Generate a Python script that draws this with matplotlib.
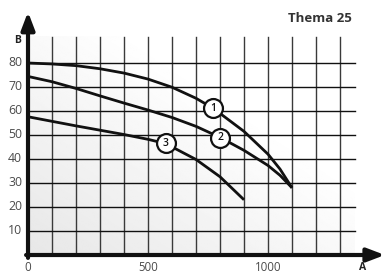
import matplotlib.pyplot as plt
import numpy as np

# curve data (A on x, B on y)
x1 = [0, 100, 200, 300, 400, 500, 600, 700, 772, 800, 900, 1000, 1050, 1100]
y1 = [80, 79.6, 78.9, 77.6, 75.8, 73.3, 69.9, 65.3, 61.1, 59.0, 51.5, 42, 35.8, 28]
x2 = [0, 100, 200, 300, 400, 500, 600, 700, 800, 900, 1000, 1050, 1100]
y2 = [74.4, 72.2, 69.4, 66.3, 63.3, 60.4, 57.3, 53.6, 49, 43.6, 37.3, 33.2, 28]
x3 = [0, 100, 200, 300, 400, 500, 574, 700, 800, 900]
y3 = [57.6, 55.7, 53.8, 52.0, 50.2, 48.2, 46.4, 39.8, 32.6, 23]

marks = ['1', '2', '3']
mark_x = [772, 800, 574]
mark_y = [61.1, 48.75, 46.5]

xticks = [0, 500, 1000]
yticks = [10, 20, 30, 40, 50, 60, 70, 80]

fig = plt.figure(figsize=(3.87, 2.73), dpi=100)
ax = fig.add_axes([0, 0, 1, 1])
ax.set_xlim(-116.7, 1495.8)
ax.set_ylim(-7.5, 106.25)
ax.axis('off')

# gradient background
g = np.linspace(0, 1, 200)
gx, gy = np.meshgrid(g, g)
shade = 0.905 + 0.095 * np.clip(gx * 0.75 + gy * 0.75, 0, 1)
ax.imshow(shade, extent=[0, 1362, 0, 91], origin='lower', cmap='gray',
          vmin=0, vmax=1, aspect='auto', zorder=0)

# grid
for gxv in range(100, 1400, 100):
    ax.plot([gxv, gxv], [0, 91], color='#3a3a3a', lw=1.0, zorder=1)
for gyv in yticks:
    ax.plot([0, 1362], [gyv, gyv], color='#111111', lw=1.0, zorder=1)

# curves
for xs, ys in [(x1, y1), (x2, y2), (x3, y3)]:
    ax.plot(xs, ys, color='#111111', lw=2.0, zorder=3, solid_capstyle='butt',
            solid_joinstyle='round')

ax.scatter(mark_x, mark_y, s=185, facecolor='white', edgecolor='#111111',
           linewidth=1.6, zorder=4)
for m, mx, my in zip(marks, mark_x, mark_y):
    ax.text(mx, my, m, ha='center', va='center', fontsize=7.5, color='#111111',
            fontfamily='Open Sans', fontweight='semibold', zorder=5)

# axes with arrows
ax.annotate('', xy=(0, 101.3), xytext=(0, -1.2),
            arrowprops=dict(arrowstyle='-|>,head_length=1.05,head_width=0.4',
                            lw=3, color='#111111', shrinkA=0, shrinkB=0), zorder=6)
ax.annotate('', xy=(1487, 0), xytext=(-8, 0),
            arrowprops=dict(arrowstyle='-|>,head_length=1.05,head_width=0.4',
                            lw=3, color='#111111', shrinkA=0, shrinkB=0), zorder=6)

# tick labels
for t in yticks:
    ax.text(-24, t, str(t), ha='right', va='center', fontsize=8.8, color='#4a4a4a',
            fontfamily='Open Sans')
for t in xticks:
    ax.text(t, -5.2, str(t), ha='center', va='center', fontsize=8.3, color='#4a4a4a',
            fontfamily='Open Sans')
ax.text(-42, 89.5, 'B', ha='center', va='center', fontsize=7.5, color='#222222',
        fontfamily='Open Sans', fontweight='bold')
ax.text(1396, -5.2, 'A', ha='center', va='center', fontsize=7.5, color='#222222',
        fontfamily='Open Sans', fontweight='bold')
ax.text(1217, 98.5, 'Thema 25', ha='center', va='center', fontsize=9.5,
        color='#333333', fontfamily='Open Sans', fontweight='bold')

fig.savefig('out.png', dpi=100)
